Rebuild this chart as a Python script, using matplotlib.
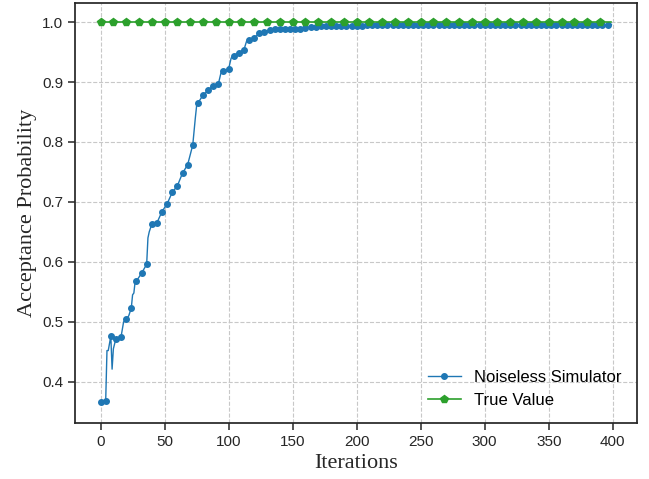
import matplotlib.pyplot as plt
import matplotlib as mpl

mpl.rcParams['font.family'] = 'sans-serif'
mpl.rcParams['font.sans-serif'] = ['Liberation Sans', 'Arial', 'DejaVu Sans']

# Noiseless simulator run (iteration, acceptance probability)
sim_iters = [0, 2, 4, 5, 6, 8, 9, 10, 12, 16, 18, 20, 22, 24, 25, 26, 27, 28,
             32, 36, 37, 38, 40, 44, 48, 52, 56, 60, 64, 68, 72, 74, 75, 76,
             80, 84, 88, 92, 94, 96, 100, 102, 104, 108, 112, 114, 116, 120,
             124, 128, 132, 136, 140, 144, 148, 152, 156, 160, 164, 168, 172,
             176, 180, 184, 188, 192, 196, 200, 204, 208, 212, 216, 220, 224,
             228, 232, 236, 240, 244, 248, 252, 256, 260, 264, 268, 272, 276,
             280, 284, 288, 292, 296, 300, 304, 308, 312, 316, 320, 324, 328,
             332, 336, 340, 344, 348, 352, 356, 360, 364, 368, 372, 376, 380,
             384, 388, 392, 396, 399]
sim_vals = [0.366, 0.363, 0.368, 0.452, 0.452, 0.476, 0.421, 0.455, 0.472, 0.475,
            0.500, 0.504, 0.510, 0.523, 0.545, 0.548, 0.567, 0.568,
            0.581, 0.596, 0.640, 0.650, 0.663, 0.665, 0.684, 0.697, 0.716, 0.727,
            0.748, 0.762, 0.795, 0.840, 0.860, 0.865,
            0.878, 0.886, 0.894, 0.897, 0.915, 0.919, 0.922, 0.940, 0.944, 0.949,
            0.954, 0.968, 0.970, 0.974,
            0.981, 0.984, 0.986, 0.988, 0.988, 0.988, 0.988, 0.988, 0.989, 0.990,
            0.992, 0.992, 0.993,
            0.993, 0.993, 0.994, 0.994, 0.994, 0.994, 0.994, 0.994, 0.995, 0.995,
            0.995, 0.995, 0.995,
            0.995, 0.995, 0.995, 0.995, 0.995, 0.995, 0.995, 0.995, 0.995, 0.995,
            0.995, 0.995, 0.995,
            0.995, 0.995, 0.995, 0.995, 0.995, 0.995, 0.995, 0.995, 0.995, 0.995,
            0.995, 0.995, 0.995,
            0.995, 0.995, 0.995, 0.995, 0.995, 0.995, 0.995, 0.995, 0.995, 0.995,
            0.995, 0.995, 0.995,
            0.995, 0.995, 0.995, 0.995, 0.996]

# True value line
true_iters = list(range(400))
true_vals = [1.0] * 400

fig = plt.figure(figsize=(6.49, 4.79), dpi=100)
ax = fig.add_axes([0.1156, 0.1169, 0.8659, 0.8768])

sim_marks = [i for i, it in enumerate(sim_iters) if it % 4 == 0]
ax.plot(sim_iters, sim_vals, color='#1f77b4', linewidth=1.0, marker='o',
        markersize=4, markevery=sim_marks, label='Noiseless Simulator')
ax.plot(true_iters, true_vals, color='#2ca02c', linewidth=1.2, marker='p',
        markersize=6, markevery=10, label='True Value')

ax.set_xlabel('Iterations', fontsize=16, family='Liberation Serif', color='#262626',
              labelpad=4)
ax.set_ylabel('Acceptance Probability', fontsize=16, family='Liberation Serif',
              color='#262626', labelpad=4)
ax.grid(True, color='#c8c8c8', linestyle='--', linewidth=0.8)
ax.set_axisbelow(True)
ax.tick_params(labelsize=11, length=5, width=1.1, colors='#262626',
               labelcolor='#262626')
for sp in ax.spines.values():
    sp.set_color('#262626')
    sp.set_linewidth(1.25)

ax.legend(loc='lower right', frameon=False, fontsize=12,
          bbox_to_anchor=(1.0, 0.0))

plt.savefig('out.png', dpi=100)
